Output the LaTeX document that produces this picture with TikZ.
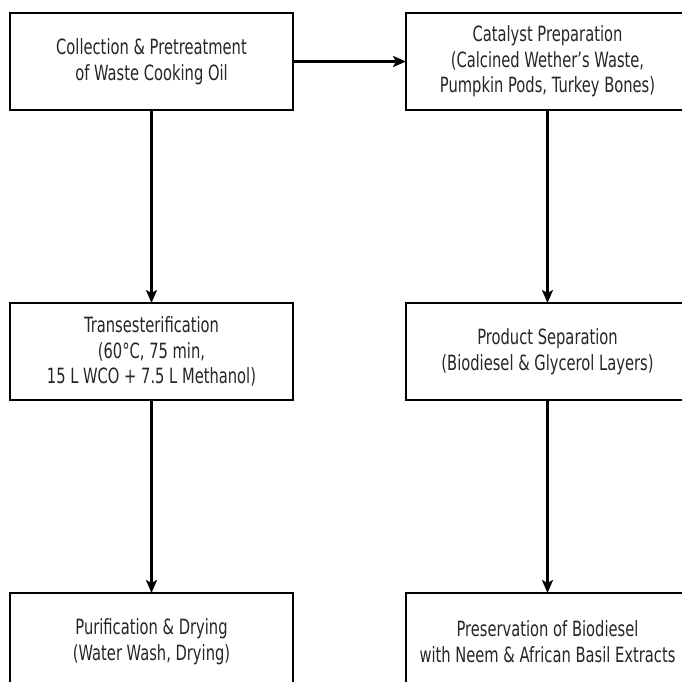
\documentclass[tikz,border=0pt]{standalone}
\usepackage{fontspec}
\newfontfamily\stepfont{DejaVu Sans}[FakeStretch=0.7]
\usepackage{tikz}
\usetikzlibrary{
  arrows.meta,
  chains,
  matrix,
  positioning,
  scopes
}

\begin{document}
\begin{tikzpicture}[
      process/.style={
         rectangle,
         minimum width=283pt,
         minimum height=97pt,
         inner sep=0pt,
         outer sep=0pt,
         line width=2.8pt,
         draw=black,
         fill=white,
         align=center,
         text=black!85,
         font=\stepfont\fontsize{21pt}{25.5pt}\selectfont
      },
      >={Stealth[length=13pt,width=11pt,inset=3pt]},line width=2.3pt,
      tip/.style={->,shorten >=0pt},
      every join/.style={line width=2.3pt}
    ]
    \useasboundingbox (0,0) rectangle (682pt,-681pt);
    \matrix[column sep=110.2pt, row sep=190.2pt, inner sep=0pt, outer sep=0pt, anchor=north west] at (8.6pt,-11.6pt) {
\node (n11) [process] {Collection \& Pretreatment\\of Waste Cooking Oil}; & \node (n12) [process] {Catalyst Preparation\\(Calcined Wether’s Waste,\\Pumpkin Pods, Turkey Bones)};\\
\node (n21) [process] {Transesterification\\(60°C, 75 min,\\15 L WCO + 7.5 L Methanol)}; & \node (n22) [process] {Product Separation\\(Biodiesel \& Glycerol Layers)};\\
\node (n31) [process] {Purification \& Drying\\(Water Wash, Drying)}; & \node (n32) [process] {Preservation of Biodiesel\\with Neem \& African Basil Extracts};\\
    };
  { [start chain]
       \chainin (n11);
       \chainin (n12)    [join=by tip];
  }
  { [start chain]
       \chainin (n11);
       \chainin (n21)    [join=by tip];
       \chainin (n31)    [join=by tip];
  }
  { [start chain]
       \chainin (n12);
       \chainin (n22)    [join=by tip];
       \chainin (n32)    [join=by tip];
  }
\end{tikzpicture}
\end{document}
